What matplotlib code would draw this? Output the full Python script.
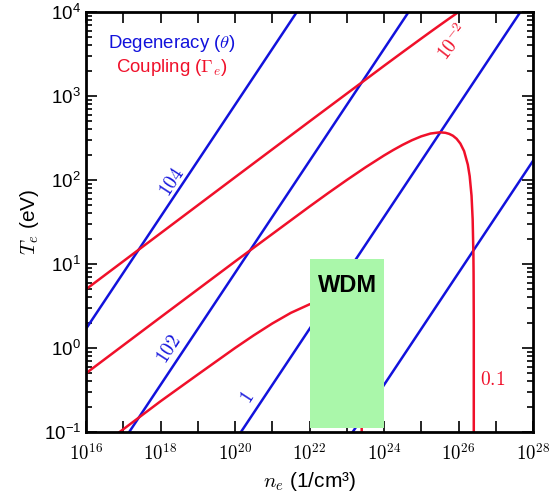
import matplotlib
matplotlib.use("Agg")
import matplotlib.pyplot as plt
import numpy as np
from matplotlib.ticker import LogLocator, FixedLocator, NullFormatter, FuncFormatter

plt.rcParams['mathtext.fontset'] = 'cm'
plt.rcParams['font.family'] = ['Liberation Sans', 'DejaVu Sans']

# Degeneracy lines (theta): endpoints (n_e in 1/cm^3, T_e in eV)
theta_n = [[1e16, 10**21.66], [10**17.16, 10**24.66], [10**20.16, 10**27.66], [10**23.16, 1e28]]
theta_T = [[1.69, 1e4], [0.1, 1e4], [0.1, 1e4], [0.1, 169]]

# Coupling curves (Gamma_e)
gam001_logn = [16, 18, 20, 22, 24, 24.5, 25, 25.25, 25.5, 25.75, 26.0]
gam001_T = [5.0, 23.2, 107.7, 498, 2285, 3328, 4831, 5811, 6976, 8358, 9990]

gam01_logn = [16, 18, 20, 22, 22.5, 23, 23.5, 24, 24.25, 24.5, 24.75, 25, 25.25, 25.5, 25.65,
              25.75, 25.85, 25.95, 26.05, 26.15, 26.25, 26.3, 26.35, 26.38, 26.40, 26.405,
              26.41, 26.4103]
gam01_T = [0.50, 2.32, 10.7, 48.3, 69.8, 99.9, 141.2, 195.7, 227.7, 262.2, 297.5, 330.9, 357.5,
           369.5, 364.6, 354.1, 336.6, 309.4, 271.4, 220.9, 152.4, 111.3, 65, 34, 13.2, 7.6,
           2.0, 0.1]

gam1_logn = [16.9, 17, 18, 19, 20, 20.5, 21, 21.5, 22, 22.25, 22.5, 22.75, 23, 23.2, 23.3,
             23.35, 23.4, 23.402]
gam1_T = [0.0998, 0.1077, 0.232, 0.483, 0.999, 1.412, 1.957, 2.622, 3.309, 3.575, 3.695,
          3.541, 2.92, 1.884, 1.11, 0.65, 0.132, 0.1]

# WDM region
wdm_n = [1e22, 1e24]
wdm_T = [0.112, 11.5]

blue = '#1212dc'
red = '#f0102a'

fig = plt.figure(figsize=(5.5, 4.97), dpi=100)
ax = fig.add_axes([86/550, 1-432/497, (533-86)/550, (432-12)/497])
ax.set_xscale('log')
ax.set_yscale('log')

for n, T in zip(theta_n, theta_T):
    ax.plot(n, T, color=blue, lw=1.8, zorder=2)

ax.plot(10**np.array(gam001_logn), gam001_T, color=red, lw=1.8, zorder=2)
ax.plot(10**np.array(gam01_logn), gam01_T, color=red, lw=1.8, zorder=2)
ax.plot(10**np.array(gam1_logn), gam1_T, color=red, lw=1.8, zorder=2)

ax.fill_between(wdm_n, wdm_T[0], wdm_T[1], color='#aaf7aa', lw=0, zorder=3)
ax.text(10**23.03, 5.6, 'WDM', fontsize=17, fontweight='bold', ha='center', va='center',
        color='black', zorder=4)

# line labels
ax.text(10**18.31, 94, '$104$', color=blue, fontsize=14, rotation=57, ha='center', va='center')
ax.text(10**18.25, 0.95, '$102$', color=blue, fontsize=14, rotation=57, ha='center', va='center')
ax.text(10**20.35, 0.254, '$1$', color=blue, fontsize=14, rotation=57, ha='center', va='center')
ax.text(10**25.85, 4400, '$10^{-2}$', color=red, fontsize=14, rotation=52, ha='center', va='center')
ax.text(10**26.93, 0.416, '$0.1$', color=red, fontsize=14, ha='center', va='center')

# legend-like text
ax.text(0.192, 0.926, r'Degeneracy ($\theta$)', color=blue, fontsize=13.4, ha='center',
        va='center', transform=ax.transAxes)
ax.text(0.192, 0.867, r'Coupling ($\Gamma_e$)', color=red, fontsize=13.4, ha='center',
        va='center', transform=ax.transAxes)

ax.set_xlim(1e16, 1e28)
ax.set_ylim(1e-1, 1e4)

ax.xaxis.set_major_locator(FixedLocator([10.0**k for k in range(16, 29)]))
ax.xaxis.set_minor_locator(FixedLocator([]))
def xfmt(v, pos):
    k = int(round(np.log10(v)))
    return r'$10^{%d}$' % k if k % 2 == 0 else ''
ax.xaxis.set_major_formatter(FuncFormatter(xfmt))
ax.yaxis.set_major_locator(LogLocator(base=10, numticks=20))
ax.yaxis.set_minor_locator(LogLocator(base=10, subs=np.arange(2, 10), numticks=20))
ax.yaxis.set_minor_formatter(NullFormatter())

ax.tick_params(which='both', direction='in', top=True, right=True, labelsize=13.5, width=1.2)
ax.tick_params(which='major', length=8)
ax.tick_params(which='minor', length=4)
ax.tick_params(axis='x', which='major', pad=8)
for sp in ax.spines.values():
    sp.set_linewidth(2.0)

ax.set_xlabel('$n_e$ (1/cm³)', fontsize=15, labelpad=4)
ax.set_ylabel('$T_e$ (eV)', fontsize=15, labelpad=2)

fig.savefig('out.png', dpi=100)
